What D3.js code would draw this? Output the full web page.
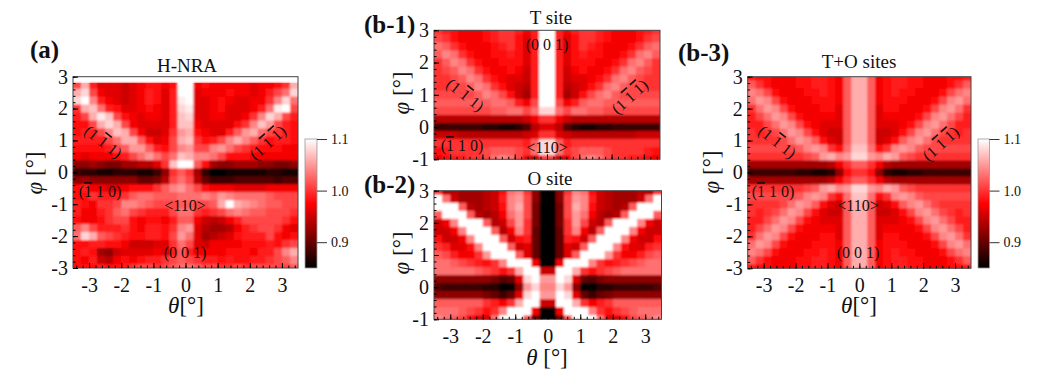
<!DOCTYPE html>
<html>
<head>
<meta charset="utf-8">
<script src="https://cdn.jsdelivr.net/npm/d3@7/dist/d3.min.js"></script>
<style>
  body { margin: 0; background: #fff; }
  text { font-family: "Liberation Serif", serif; fill: #111; }
</style>
</head>
<body>
<svg id="chart" width="1037" height="378"></svg>
<script>
// values are yields x 100
const thetas = [-3.375, -3.125, -2.875, -2.625, -2.375, -2.125, -1.875, -1.625, -1.375, -1.125, -0.875, -0.625, -0.375, -0.125,
    0.125, 0.375, 0.625, 0.875, 1.125, 1.375, 1.625, 1.875, 2.125, 2.375, 2.625, 2.875, 3.125, 3.375];
const phisShort = [3, 2.75, 2.5, 2.25, 2, 1.75, 1.5, 1.25, 1, 0.75, 0.5, 0.25, 0, -0.25, -0.5, -0.75, -1];
const phisLong = [3, 2.75, 2.5, 2.25, 2, 1.75, 1.5, 1.25, 1, 0.75, 0.5, 0.25, 0, -0.25, -0.5, -0.75, -1, -1.25, -1.5, -1.75, -2, -2.25, -2.5, -2.75, -3];
const phisNra = phisLong.slice(1);

const xTicks = [-3, -2, -1, 0, 1, 2, 3];
const yTicksShort = [-1, 0, 1, 2, 3];
const yTicksLong = [-3, -2, -1, 0, 1, 2, 3];
const barTicks = [0.9, 1.0, 1.1];
const barLabels = ["0.9", "1.0", "1.1"];

const nraRows = [
    [101,106,99,96,96,96,95,96,97,98,98,97,98,110,110,97,98,97,97,97,97,97,96,97,97,98,100,106],
    [106,108,101,97,96,96,95,96,97,99,98,96,99,110,110,96,97,97,97,98,97,97,96,97,99,101,103,108],
    [108,110,104,99,97,96,95,96,97,99,98,96,99,109,110,96,96,97,98,97,96,96,97,97,100,104,108,103],
    [100,106,107,103,99,98,96,96,97,98,97,96,99,108,109,96,96,97,98,96,96,96,97,99,103,109,110,101],
    [99,101,106,109,107,101,98,97,96,97,97,96,99,107,108,96,96,97,97,96,96,97,100,104,108,106,101,99],
    [98,98,101,106,108,106,101,97,96,96,96,96,99,107,107,97,96,96,96,96,98,100,104,107,105,101,99,98],
    [98,99,99,101,104,107,106,101,97,95,95,96,100,105,106,98,97,96,96,99,102,105,106,103,101,100,99,98],
    [99,99,99,99,101,103,106,106,102,98,96,97,101,106,107,100,98,99,101,104,106,104,102,100,98,99,99,98],
    [98,98,98,98,99,101,102,105,105,102,99,98,101,104,105,101,101,104,105,103,101,100,99,98,98,98,97,97],
    [97,96,97,97,97,98,99,101,103,105,103,101,103,107,106,104,104,103,101,98,98,98,97,97,97,97,97,97],
    [92,92,93,92,91,91,93,93,94,94,96,100,107,110,110,102,98,93,92,92,93,93,93,92,92,91,91,92],
    [88,87,87,86,86,87,87,87,86,86,88,92,100,102,100,93,87,85,85,86,86,86,86,86,87,87,86,86],
    [92,93,92,92,92,92,92,92,90,90,91,94,101,103,101,94,90,88,88,88,89,89,89,89,89,88,89,89],
    [98,99,97,97,96,96,97,98,98,98,100,102,104,105,103,101,98,97,97,97,96,96,96,96,97,97,97,97],
    [98,98,100,99,99,99,100,102,103,103,102,102,102,103,103,103,104,103,105,104,103,103,103,103,102,101,101,101],
    [99,98,97,100,100,101,104,104,103,102,101,101,101,102,102,101,101,102,106,110,106,105,104,103,102,102,101,101],
    [99,97,97,99,100,102,103,101,100,99,99,99,101,103,103,100,99,100,101,103,104,103,102,102,101,101,101,100],
    [98,97,97,98,100,101,101,98,97,98,98,97,99,102,102,97,95,94,95,97,99,101,101,101,101,101,100,98],
    [102,104,101,99,99,99,100,98,97,99,99,98,100,104,105,96,94,93,93,94,97,99,100,101,101,100,97,96],
    [103,108,106,102,101,100,99,98,98,99,99,98,101,105,103,96,93,94,95,96,98,99,99,99,101,98,97,98],
    [98,98,99,99,98,98,97,95,95,95,96,96,100,103,101,96,95,97,97,97,97,98,98,98,99,98,100,101],
    [98,99,98,93,92,95,96,96,96,96,97,96,99,102,99,97,97,97,97,98,98,98,97,99,99,101,104,106],
    [98,97,99,95,94,97,98,97,98,99,99,100,101,102,101,100,99,99,98,99,98,98,99,99,100,101,102,104],
    [98,98,98,99,98,98,99,100,101,101,100,101,102,103,103,102,101,101,100,100,101,100,101,101,101,101,101,102]
];

const tSiteRows = [
    [100,99,98,97,97,97,98,99,100,100,99,97,99,110,110,99,97,99,100,100,99,98,97,97,97,98,99,100],
    [101,100,98,97,97,97,98,99,100,100,98,96,99,110,110,99,96,98,100,100,99,98,97,97,97,98,100,101],
    [103,102,100,98,97,97,97,98,99,100,98,96,99,110,110,99,96,98,100,99,98,97,97,97,98,100,102,103],
    [102,104,103,100,98,97,97,98,98,99,98,96,99,110,110,99,96,98,99,98,98,97,97,98,100,103,104,102],
    [100,102,104,103,100,98,97,97,98,98,98,96,99,110,110,99,96,98,98,98,97,97,98,100,103,104,102,100],
    [100,101,102,104,103,100,98,97,97,98,97,95,99,110,110,99,95,97,98,97,97,98,100,103,104,102,101,100],
    [100,100,101,102,104,103,100,98,97,96,96,95,99,110,110,99,95,96,96,97,98,100,103,104,102,101,100,100],
    [100,100,101,101,102,104,103,100,98,96,95,94,99,110,110,99,94,95,96,98,100,103,104,102,101,101,100,100],
    [101,101,101,101,101,102,104,103,101,98,95,93,99,110,110,99,93,95,98,101,103,104,102,101,101,101,101,101],
    [102,102,102,102,102,102,102,103,103,102,99,97,101,110,110,101,97,99,102,103,103,102,102,102,102,102,102,102],
    [101,101,101,101,101,101,101,102,102,103,103,101,103,108,108,103,101,103,103,102,102,101,101,101,101,101,101,101],
    [94,94,94,94,94,94,94,94,94,94,94,95,97,100,100,97,95,94,94,94,94,94,94,94,94,94,94,94],
    [88,88,88,88,88,88,87,87,86,86,87,89,94,96,96,94,89,87,86,86,87,87,88,88,88,88,88,88],
    [95,95,95,94,94,94,94,94,94,94,94,95,96,100,100,96,95,94,94,94,94,94,94,94,94,95,95,95],
    [100,100,100,100,100,100,100,100,100,100,100,99,102,108,108,102,99,100,100,100,100,100,100,100,100,100,100,100],
    [98,99,100,100,100,100,101,102,102,102,101,100,103,108,108,103,100,101,102,102,102,101,100,100,100,100,99,98],
    [97,98,99,99,100,100,101,103,104,103,101,97,95,101,101,95,97,101,103,104,103,101,100,100,99,99,98,97]
];

const oSiteRows = [
    [100,94,94,93,93,93,94,95,98,103,104,100,92,85,85,92,100,104,103,98,95,94,93,93,93,94,94,100],
    [110,103,95,93,93,93,94,95,99,104,105,101,92,85,85,92,101,105,104,99,95,94,93,93,93,95,103,110],
    [110,110,110,102,94,93,94,95,98,104,106,101,91,85,85,91,101,106,104,98,95,94,93,94,102,110,110,110],
    [102,110,110,110,102,94,93,94,97,103,105,101,91,85,85,91,101,105,103,97,94,93,94,102,110,110,110,102],
    [95,97,104,110,110,110,102,94,95,101,105,100,91,85,85,91,100,105,101,95,94,102,110,110,110,104,97,95],
    [95,95,97,104,110,110,110,102,94,97,104,100,90,85,85,90,100,104,97,94,102,110,110,110,104,97,95,95],
    [98,95,95,97,104,110,110,110,102,95,98,99,90,85,85,90,99,98,95,102,110,110,110,104,97,95,95,98],
    [100,99,96,96,98,104,110,110,110,102,95,96,90,85,85,90,96,95,102,110,110,110,104,98,96,96,99,100],
    [102,101,99,97,97,100,105,110,110,110,102,96,90,85,85,90,96,102,110,110,110,105,100,97,97,99,101,102],
    [103,103,102,101,100,99,98,100,104,110,110,110,97,85,85,97,110,110,110,104,100,98,99,100,101,102,103,103],
    [103,103,103,103,103,102,101,100,98,100,106,110,110,95,95,110,110,106,100,98,100,101,102,103,103,103,103,103],
    [92,92,92,92,92,92,92,91,89,90,96,108,110,105,105,110,108,96,90,89,91,92,92,92,92,92,92,92],
    [89,88,88,88,88,88,87,87,85,85,92,105,108,104,104,108,105,92,85,85,87,87,88,88,88,88,88,89],
    [92,92,92,92,92,92,91,90,88,90,96,108,110,105,105,110,108,96,90,88,90,91,92,92,92,92,92,92],
    [102,102,102,102,102,102,100,99,97,100,106,110,110,95,95,110,110,106,100,97,99,100,102,102,102,102,102,102],
    [103,103,103,102,101,100,98,100,104,110,110,110,97,85,85,97,110,110,110,104,100,98,100,101,102,103,103,103],
    [104,103,102,101,98,96,96,103,110,110,110,102,90,85,85,90,102,110,110,110,103,96,96,98,101,102,103,104]
];

const tPlusORows = [
    [99,98,98,97,97,97,98,98,99,99,98,97,102,106,106,102,97,98,99,99,98,98,97,97,97,98,98,99],
    [102,100,98,97,97,97,98,98,99,99,98,97,102,106,106,102,97,98,99,99,98,98,97,97,97,98,100,102],
    [104,103,101,98,97,97,97,98,98,99,98,97,102,106,106,102,97,98,99,98,98,97,97,97,98,101,103,104],
    [103,105,104,101,98,97,97,97,98,98,98,97,102,106,106,102,97,98,98,98,97,97,97,98,101,104,105,103],
    [100,103,105,104,101,98,97,97,97,98,98,96,102,106,106,102,96,98,98,97,97,97,98,101,104,105,103,100],
    [99,101,103,105,104,101,98,97,97,97,97,96,102,106,106,102,96,97,97,97,97,98,101,104,105,103,101,99],
    [99,99,101,103,105,104,101,98,97,96,96,96,102,106,106,102,96,96,96,97,98,101,104,105,103,101,99,99],
    [100,99,100,101,103,105,104,101,98,96,95,95,102,106,106,102,95,95,96,98,101,104,105,103,101,100,99,100],
    [100,100,100,100,101,103,105,104,102,98,96,95,102,106,106,102,95,96,98,102,104,105,103,101,100,100,100,100],
    [101,101,101,101,101,101,102,104,105,104,100,98,103,107,107,103,98,100,104,105,104,102,101,101,101,101,101,101],
    [100,100,100,100,100,100,100,101,102,105,106,104,105,108,108,105,104,106,105,102,101,100,100,100,100,100,100,100],
    [93,93,93,93,93,93,93,93,93,93,94,97,100,102,102,100,97,94,93,93,93,93,93,93,93,93,93,93],
    [88,88,88,88,88,88,87,87,86,86,87,92,98,100,100,98,92,87,86,86,87,87,88,88,88,88,88,88],
    [93,93,93,93,93,93,93,93,93,93,94,97,100,102,102,100,97,94,93,93,93,93,93,93,93,93,93,93],
    [100,100,100,100,100,100,100,101,102,105,106,104,105,108,108,105,104,106,105,102,101,100,100,100,100,100,100,100],
    [101,101,101,101,101,101,102,104,105,104,100,98,103,107,107,103,98,100,104,105,104,102,101,101,101,101,101,101],
    [100,100,100,100,101,103,105,104,102,98,96,95,102,106,106,102,95,96,98,102,104,105,103,101,100,100,100,100],
    [100,99,100,101,103,105,104,101,98,96,95,95,102,106,106,102,95,95,96,98,101,104,105,103,101,100,99,100],
    [99,99,101,103,105,104,101,98,97,96,96,96,102,106,106,102,96,96,96,97,98,101,104,105,103,101,99,99],
    [99,101,103,105,104,101,98,97,97,97,97,96,102,106,106,102,96,97,97,97,97,98,101,104,105,103,101,99],
    [100,103,105,104,101,98,97,97,97,98,98,96,102,106,106,102,96,98,98,97,97,97,98,101,104,105,103,100],
    [103,105,104,101,98,97,97,97,98,98,98,97,102,106,106,102,97,98,98,98,97,97,97,98,101,104,105,103],
    [104,103,101,98,97,97,97,98,98,99,98,97,102,106,106,102,97,98,99,98,98,97,97,97,98,101,103,104],
    [102,100,98,97,97,97,98,98,99,99,98,97,102,106,106,102,97,98,99,99,98,98,97,97,97,98,100,102],
    [99,98,98,97,97,97,98,98,99,99,98,97,102,106,106,102,97,98,99,99,98,98,97,97,97,98,98,99]
];

// "1\u0304" marks a barred index, drawn with an overline below
const hkl111 = "(1 1\u0304 1)", hkl11b = "(1 1\u0304 1\u0304)", hkl110 = "(1\u0304 1 0)";

const panels = [
    { rows: nraRows, phis: phisNra, x0: 73, x1: 298, y0: 76.7, y1: 268, top: 3, dataTop: 2.8, bottom: -3, yTicks: yTicksLong,
      xLabels: true, title: "H-NRA", titleX: 187, titleY: 72, tag: "(a)", tagX: 30, tagY: 58, yTitleX: 42, yTitleY: 173, xTitle: "[\u00b0]", xTitleX: 186, xTitleY: 313 },
    { rows: tSiteRows, phis: phisShort, x0: 434, x1: 660, y0: 30.3, y1: 159.3, top: 3, dataTop: 3, bottom: -1, yTicks: yTicksShort,
      xLabels: false, title: "T site", titleX: 551, titleY: 24, tag: "(b-1)", tagX: 364, tagY: 33, yTitleX: 409, yTitleY: 93 },
    { rows: oSiteRows, phis: phisShort, x0: 434, x1: 661.5, y0: 190.7, y1: 319.3, top: 3, dataTop: 3, bottom: -1, yTicks: yTicksShort,
      xLabels: true, title: "O site", titleX: 550, titleY: 185, tag: "(b-2)", tagX: 364, tagY: 193, yTitleX: 409, yTitleY: 253, xTitle: " [\u00b0]", xTitleX: 547, xTitleY: 365 },
    { rows: tPlusORows, phis: phisLong, x0: 747.7, x1: 971, y0: 76.7, y1: 268.3, top: 3, dataTop: 3, bottom: -3, yTicks: yTicksLong,
      xLabels: true, title: "T+O sites", titleX: 859, titleY: 68, tag: "(b-3)", tagX: 678, tagY: 61, yTitleX: 719, yTitleY: 172, xTitle: "[\u00b0]", xTitleX: 859, xTitleY: 313 }
];

const notes = [
    { t: hkl111, x: 103, y: 142, r: 38 }, { t: hkl11b, x: 268, y: 143, r: -42 }, { t: hkl110, x: 100, y: 192, r: 0 },
    { t: "<110>", x: 185, y: 206, r: 0 }, { t: "(0 0 1)", x: 185, y: 253, r: 0 },
    { t: hkl111, x: 465, y: 95, r: 38 }, { t: hkl11b, x: 630, y: 97, r: -42 }, { t: hkl110, x: 462, y: 146, r: 0 },
    { t: "<110>", x: 547, y: 148, r: 0 }, { t: "(0 0 1)", x: 547, y: 45, r: 0 },
    { t: hkl111, x: 777, y: 142, r: 38 }, { t: hkl11b, x: 941, y: 144, r: -42 }, { t: hkl110, x: 773, y: 192, r: 0 },
    { t: "<110>", x: 858, y: 206, r: 0 }, { t: "(0 0 1)", x: 858, y: 253, r: 0 }
];

const color = d3.scaleLinear()
    .domain([0.85, 0.975, 1.1])
    .range(["#000000", "#ff0000", "#ffffff"]);

const svg = d3.select("#chart");
const defs = svg.append("defs");
defs.append("filter").attr("id", "soft")
    .attr("x", "-2%").attr("y", "-2%").attr("width", "104%").attr("height", "104%")
    .append("feGaussianBlur").attr("stdDeviation", 1);

panels.forEach((p, i) => {
    const x = d3.scaleLinear().domain([-3.5, 3.5]).range([p.x0, p.x1]);
    const y = d3.scaleLinear().domain([p.bottom, p.top]).range([p.y1, p.y0]);
    const g = svg.append("g");

    defs.append("clipPath").attr("id", "clip" + i)
        .append("rect")
        .attr("x", p.x0).attr("y", p.y0)
        .attr("width", p.x1 - p.x0).attr("height", p.y1 - p.y0);

    const rowStep = 0.25, colStep = 0.25;
    const clipped = g.append("g").attr("clip-path", `url(#clip${i})`);

    // plain copy first so the blurred one does not fade at the frame
    [clipped.append("g"), clipped.append("g").attr("filter", "url(#soft)")].forEach(layer => {
        layer.selectAll("g")
            .data(p.rows)
            .enter()
            .append("g")
            .each(function (row, r) {
                const phi = p.phis[r];
                const hi = Math.min(phi + rowStep / 2, p.dataTop);
                const lo = Math.max(phi - rowStep / 2, p.bottom);
                d3.select(this).selectAll("rect")
                    .data(row)
                    .enter()
                    .append("rect")
                    .attr("x", (d, c) => x(thetas[c] - colStep / 2))
                    .attr("y", y(hi))
                    .attr("width", x(colStep) - x(0) + 0.3)
                    .attr("height", y(lo) - y(hi) + 0.3)
                    .attr("fill", d => color(d / 100));
            });
    });

    // frame
    g.append("rect")
        .attr("x", p.x0).attr("y", p.y0)
        .attr("width", p.x1 - p.x0).attr("height", p.y1 - p.y0)
        .attr("fill", "none").attr("stroke", "#444").attr("stroke-width", 1);

    // minor and major ticks point inwards
    const xMinor = d3.range(-34, 35, 2).map(d => d / 10);
    const yMinor = d3.range(p.bottom * 10, p.top * 10 + 1, 2).map(d => d / 10);

    g.append("g").attr("transform", `translate(0,${p.y1})`)
        .call(d3.axisBottom(x).tickValues(xMinor).tickSize(-2.5).tickFormat(""))
        .call(s => s.select(".domain").remove());
    g.append("g").attr("transform", `translate(${p.x0},0)`)
        .call(d3.axisLeft(y).tickValues(yMinor).tickSize(-2.5).tickFormat(""))
        .call(s => s.select(".domain").remove());

    g.append("g").attr("transform", `translate(0,${p.y1})`)
        .call(d3.axisBottom(x).tickValues(xTicks).tickSize(-5).tickPadding(10)
            .tickFormat(d => p.xLabels ? String(d) : ""))
        .call(s => s.select(".domain").remove())
        .selectAll("text").style("font-family", '"Liberation Serif", serif').style("font-size", "20px").attr("fill", "#111");
    g.append("g").attr("transform", `translate(${p.x0},0)`)
        .call(d3.axisLeft(y).tickValues(p.yTicks).tickSize(-5).tickPadding(5).tickFormat(d => String(d)))
        .call(s => s.select(".domain").remove())
        .selectAll("text").style("font-family", '"Liberation Serif", serif').style("font-size", "20px").attr("fill", "#111");

    g.append("text").attr("x", p.titleX).attr("y", p.titleY)
        .attr("text-anchor", "middle").style("font-size", "19px").text(p.title);
    g.append("text").attr("x", p.tagX).attr("y", p.tagY)
        .style("font-size", "25px").style("font-weight", "bold").text(p.tag);

    const yt = g.append("text")
        .attr("transform", `translate(${p.yTitleX},${p.yTitleY}) rotate(-90)`)
        .attr("text-anchor", "middle").style("font-size", "23px");
    yt.append("tspan").style("font-style", "italic").text("\u03c6");
    yt.append("tspan").text(" [\u00b0]");

    if (p.xTitle) {
        const xt = g.append("text").attr("x", p.xTitleX).attr("y", p.xTitleY)
            .attr("text-anchor", "middle").style("font-size", "23px");
        xt.append("tspan").style("font-style", "italic").text("\u03b8");
        xt.append("tspan").text(p.xTitle);
    }
});

svg.selectAll(".note")
    .data(notes)
    .enter()
    .append("text")
    .attr("class", "note")
    .attr("transform", d => `translate(${d.x},${d.y}) rotate(${d.r})`)
    .attr("text-anchor", "middle")
    .attr("dy", "0.32em")
    .style("font-size", "16px")
    .each(function (d) {
        const note = d3.select(this);
        d.t.split(/(1\u0304)/).filter(s => s).forEach(s => {
            const bar = s === "1\u0304";
            note.append("tspan")
                .style("text-decoration", bar ? "overline" : "none")
                .text(bar ? "1" : s);
        });
    });

// colour bars
const grad = defs.append("linearGradient").attr("id", "barGrad")
    .attr("x1", 0).attr("y1", 1).attr("x2", 0).attr("y2", 0);
grad.selectAll("stop")
    .data(color.domain())
    .enter()
    .append("stop")
    .attr("offset", d => (d - 0.85) / 0.25)
    .attr("stop-color", d => color(d));

[{ x: 305, w: 12 }, { x: 978, w: 11.5 }].forEach(b => {
    const y = d3.scaleLinear().domain([0.85, 1.1]).range([268, 139]);
    svg.append("rect")
        .attr("x", b.x).attr("y", 139).attr("width", b.w).attr("height", 129)
        .attr("fill", "url(#barGrad)").attr("stroke", "#999").attr("stroke-width", 0.8);
    const ax = svg.append("g").attr("transform", `translate(${b.x + b.w},0)`)
        .call(d3.axisRight(y).tickValues(barTicks).tickSize(10).tickPadding(4)
            .tickFormat((d, i) => barLabels[i]));
    ax.select(".domain").remove();
    ax.selectAll("text").style("font-family", '"Liberation Serif", serif').style("font-size", "14px").attr("fill", "#222");
    ax.selectAll("line").attr("stroke", "#333");
});
</script>
</body>
</html>
